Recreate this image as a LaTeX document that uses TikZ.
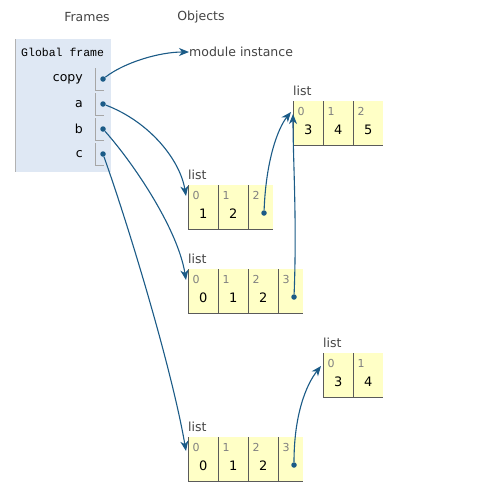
\documentclass[tikz,border=0pt]{standalone}
\usepackage{fontspec}
\setmainfont{DejaVu Sans}
\setmonofont{Liberation Mono}
\usepackage{xcolor}
\usepackage{tikz}
\usetikzlibrary{arrows.meta}

\definecolor{ptr}{HTML}{1B5B87}
\definecolor{framebg}{HTML}{DFE8F4}
\definecolor{cellbg}{HTML}{FFFFC6}
\definecolor{cellline}{HTML}{5A5A5A}
\definecolor{labelgray}{HTML}{444444}

\begin{document}
\begin{tikzpicture}[
    x=1pt,
    y=-1pt,
    heading/.style={
        font=\fontsize{12.5}{14}\selectfont,
        text=labelgray
    },
    frametitle/.style={
        font=\ttfamily\fontsize{11.5}{13}\selectfont,
        anchor=west,
        inner sep=0pt
    },
    varname/.style={
        font=\fontsize{12.5}{14}\selectfont,
        anchor=east,
        inner sep=0pt
    },
    dot/.style={
        circle,
        fill=ptr,
        inner sep=0pt,
        minimum size=5.5pt
    },
    cell/.style={
        fill=cellbg,
        anchor=north west,
        minimum width=30pt,
        minimum height=44pt,
        inner sep=0pt
    },
    ptrcell/.style={
        cell,
        minimum width=25pt
    },
    border/.style={
        draw=cellline,
        line width=0.9pt
    },
    idx/.style={
        font=\fontsize{11}{12}\selectfont,
        text=gray,
        inner sep=0pt
    },
    val/.style={
        font=\fontsize{13}{14}\selectfont,
        inner sep=0pt
    },
    listlabel/.style={
        font=\fontsize{12.5}{14}\selectfont,
        text=labelgray,
        anchor=west,
        inner sep=0pt
    },
    arrow/.style={
        -{Stealth[length=10pt,width=8pt,inset=3pt]},
        draw=ptr,
        line width=1.1pt
    }
]

\useasboundingbox[fill=white] (0,0) rectangle (494,493);

\node[heading] (frames) at (87,17) {Frames};
\node[heading] (objects) at (201,17) {Objects};

% global frame
\node[fill=framebg, anchor=north west, minimum width=96pt, minimum height=133pt, inner sep=0pt] (global) at (15,39) {};
\draw[gray!60, line width=0.8pt] (global.north west) -- (global.south west);
\node[frametitle] (globaltitle) at (21,52) {Global frame};

\foreach \n [count=\k from 0] in {copy,a,b,c} {
    \node[varname] (name\n) at (83,79+25*\k) {\n};
    \coordinate (slot\n) at (95,68+25*\k);
    \draw[gray!70, line width=0.8pt] (slot\n) |- ++(9,22);
    \node[dot] (var\n) at (103,79+25*\k) {};
}

\node[heading, anchor=west, inner sep=0pt] (module) at (189,52) {module instance};

% list [3, 4, 5]
\node[listlabel] (threelabel) at (293,91) {list};
\foreach \v [count=\i from 0] in {3,4,5} {
    \node[cell] (three\i) at (293+30*\i,101) {};
    \draw[border] (three\i.north west) |- (three\i.south east);
    \node[idx] at ([shift={(8pt,-10pt)}]three\i.north west) {\i};
    \node[val] at ([yshift=-29pt]three\i.north) {\v};
}

% list [1, 2, *]
\node[listlabel] (onelabel) at (188,175) {list};
\foreach \v [count=\i from 0] in {1,2} {
    \node[cell] (one\i) at (188+30*\i,185) {};
    \draw[border] (one\i.north west) |- (one\i.south east);
    \node[idx] at ([shift={(8pt,-10pt)}]one\i.north west) {\i};
    \node[val] at ([yshift=-29pt]one\i.north) {\v};
}
\node[ptrcell] (one2) at (248,185) {};
\draw[border] (one2.north west) |- (one2.south east);
\node[idx] at ([shift={(8pt,-10pt)}]one2.north west) {2};
\node[dot] (oneref) at ([shift={(16pt,-28pt)}]one2.north west) {};

% list [0, 1, 2, *]
\node[listlabel] (twolabel) at (188,259) {list};
\foreach \v [count=\i from 0] in {0,1,2} {
    \node[cell] (two\i) at (188+30*\i,269) {};
    \draw[border] (two\i.north west) |- (two\i.south east);
    \node[idx] at ([shift={(8pt,-10pt)}]two\i.north west) {\i};
    \node[val] at ([yshift=-29pt]two\i.north) {\v};
}
\node[ptrcell] (two3) at (278,269) {};
\draw[border] (two3.north west) |- (two3.south east);
\node[idx] at ([shift={(8pt,-10pt)}]two3.north west) {3};
\node[dot] (tworef) at ([shift={(16pt,-28pt)}]two3.north west) {};

% list [3, 4]
\node[listlabel] (smalllabel) at (323,343) {list};
\foreach \v [count=\i from 0] in {3,4} {
    \node[cell] (small\i) at (323+30*\i,353) {};
    \draw[border] (small\i.north west) |- (small\i.south east);
    \node[idx] at ([shift={(8pt,-10pt)}]small\i.north west) {\i};
    \node[val] at ([yshift=-29pt]small\i.north) {\v};
}

% list [0, 1, 2, *] at the bottom
\node[listlabel] (fourlabel) at (188,427) {list};
\foreach \v [count=\i from 0] in {0,1,2} {
    \node[cell] (four\i) at (188+30*\i,437) {};
    \draw[border] (four\i.north west) |- (four\i.south east);
    \node[idx] at ([shift={(8pt,-10pt)}]four\i.north west) {\i};
    \node[val] at ([yshift=-29pt]four\i.north) {\v};
}
\node[ptrcell] (four3) at (278,437) {};
\draw[border] (four3.north west) |- (four3.south east);
\node[idx] at ([shift={(8pt,-10pt)}]four3.north west) {3};
\node[dot] (fourref) at ([shift={(16pt,-28pt)}]four3.north west) {};

% arrow ends
\coordinate (onein) at ([shift={(-2pt,-11pt)}]one0.north west);
\coordinate (twoin) at ([shift={(-2pt,-11pt)}]two0.north west);
\coordinate (fourin) at ([shift={(-2pt,-14pt)}]four0.north west);
\coordinate (threeinA) at ([shift={(-2pt,-11pt)}]three0.north west);
\coordinate (threeinB) at ([shift={(0pt,-13pt)}]three0.north west);
\coordinate (smallin) at ([shift={(-2pt,-13pt)}]small0.north west);

\draw[arrow] (varcopy) .. controls (125,62) and (160,52) .. (module.west);
\draw[arrow] (vara) .. controls (150,122) and (180,160) .. (onein);
\draw[arrow] (varb) .. controls (135,165) and (178,230) .. (twoin);
\draw[arrow] (varc) .. controls (130,230) and (172,370) .. (fourin);
\draw[arrow] (oneref) .. controls (266,160) and (278,128) .. (threeinA);
\draw[arrow] (tworef) .. controls (297,220) and (293,160) .. (threeinB);
\draw[arrow] (fourref) .. controls (294,415) and (306,385) .. (smallin);

\end{tikzpicture}
\end{document}
